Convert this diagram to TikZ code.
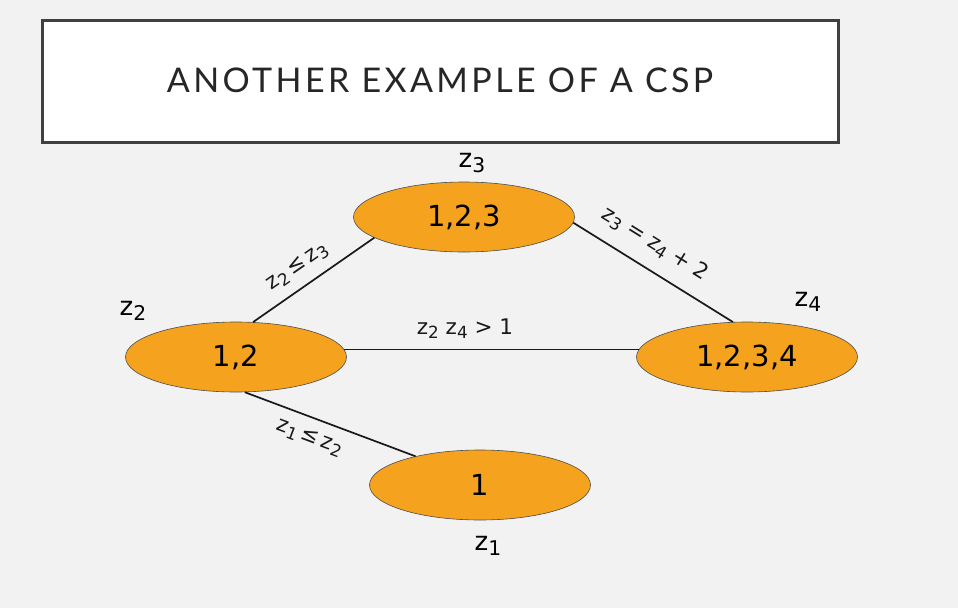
\documentclass[tikz,border=0pt]{standalone}
\usepackage{fontspec}
\setmainfont{DejaVu Sans}
\newfontfamily\titlefont[LetterSpace=10]{Lato}
\usetikzlibrary{shapes.geometric}
\definecolor{bgc}{HTML}{F2F2F2}
\definecolor{orng}{HTML}{F5A31F}
\definecolor{framec}{HTML}{404040}
\newcommand\lsub[1]{\raisebox{-0.35ex}{\scalebox{0.78}{#1}}}
\tikzset{
  domnode/.style={ellipse, draw=black!70, line width=0.6pt, fill=orng,
    minimum width=221pt, minimum height=70pt, inner sep=0pt,
    font=\fontsize{29}{34}\selectfont},
  varlabel/.style={font=\fontsize{26}{30}\selectfont, inner sep=0pt},
  edgelabel/.style={font=\fontsize{21.5}{25}\selectfont, inner sep=0pt},
  conn/.style={line width=1.7pt, black!90}
}
\begin{document}
\begin{tikzpicture}[x=1pt,y=-1pt]
\fill[bgc] (0,0) rectangle (958,608);
\useasboundingbox (0,0) rectangle (958,608);
% title box
\node[draw=framec, line width=3pt, fill=white, minimum width=796pt, minimum height=122pt, inner sep=0pt] (title) at (440.5,81.5) {};
\node[font=\titlefont\fontsize{34}{40}\selectfont, text=black!85] (titletext) at (440,80) {ANOTHER EXAMPLE OF A CSP};
% domain nodes
\node[domnode] (z3) at (464,217) {1,2,3};
\node[domnode] (z2) at (236,357) {1,2};
\node[domnode] (z4) at (747,357) {1,2,3,4};
\node[domnode] (z1) at (480,485) {1};
% variable labels
\node[varlabel] (l3) at (472,163) {z\lsub{3}};
\node[varlabel] (l2) at (133,311) {z\lsub{2}};
\node[varlabel] (l4) at (808,302) {z\lsub{4}};
\node[varlabel] (l1) at (488,546) {z\lsub{1}};
% connectors
\draw[conn] (z2.64) -- node[edgelabel, sloped, above=10pt, pos=0.46] (e23) {z\lsub{2}\,≤\,z\lsub{3}} (z3.193);
\draw[conn] (z3.-3) -- node[edgelabel, sloped, above=14pt, pos=0.43] (e34) {z\lsub{3} = z\lsub{4} + 2} (z4.112);
\draw[conn] (z2.4) -- node[edgelabel, above=10pt, pos=0.41] (e24) {z\lsub{2} z\lsub{4} > 1} (z4.176);
\draw[conn] (z2.-76) -- node[edgelabel, sloped, below=11pt, pos=0.42] (e12) {z\lsub{1}\,≤\,z\lsub{2}} (z1.156);
\end{tikzpicture}
\end{document}
